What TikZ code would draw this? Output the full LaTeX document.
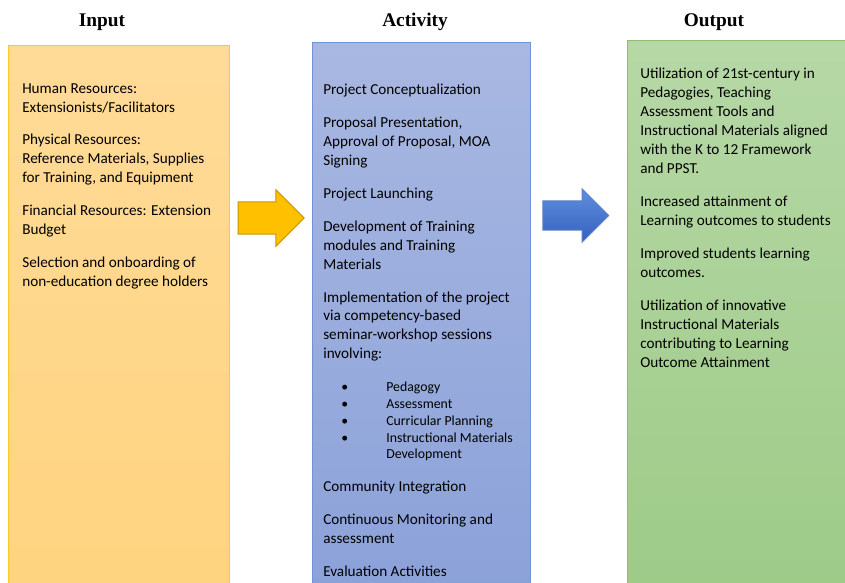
\documentclass[tikz,border=0pt]{standalone}
\usepackage{fontspec}
\setmainfont{Carlito}
\newfontfamily\headfont{Liberation Serif}
\usetikzlibrary{shapes.arrows,positioning}
\definecolor{intop}{HTML}{FFDB98}
\definecolor{inbot}{HTML}{FFD37E}
\definecolor{inline}{HTML}{FFC829}
\definecolor{acttop}{HTML}{A9B8E2}
\definecolor{actbot}{HTML}{89A0D8}
\definecolor{actline}{HTML}{6F92D8}
\definecolor{outtop}{HTML}{B6D8A6}
\definecolor{outbot}{HTML}{9CCA86}
\definecolor{outline}{HTML}{8CC070}
\definecolor{gold}{HTML}{FFC000}
\definecolor{golddark}{HTML}{C99700}
\definecolor{bluelight}{HTML}{5F8FDF}
\definecolor{bluedark}{HTML}{3460BC}
\tikzset{
    column/.style={
           rectangle,
           anchor=north west,
           line width=0.8pt,
           minimum height=420pt,
           shading=axis,
           },
    body/.style={
           anchor=north west,
           align=left,
           inner sep=0pt,
           font=\fontsize{11}{13.75}\selectfont,
           },
    heading/.style={
           anchor=base,
           inner sep=0pt,
           font=\headfont\bfseries\fontsize{14}{16}\selectfont,
           },
    flow/.style={
           single arrow,
           single arrow head extend=8.7pt,
           minimum height=47.8pt,
           inner xsep=0pt,
           inner ysep=11.4pt,
           line width=0.7pt,
           }
}

\begin{document}
\begin{tikzpicture}[x=0.724pt,y=-0.724pt]
\useasboundingbox (0,0) rectangle (845,583);
% Columns (INPUT, ACTIVITY, OUTPUT)
\node[column, draw=inline, top color=intop, bottom color=inbot,
minimum width=160pt] (INPUT) at (8,45) {};
\node[column, draw=actline, top color=acttop, bottom color=actbot,
minimum width=158pt] (ACTIVITY) at (312,42) {};
\node[column, draw=outline, top color=outtop, bottom color=outbot,
minimum width=162pt] (OUTPUT) at (627,40) {};
% Headings
\node[heading] (INHEAD) at (102,27) {Input};
\node[heading] (ACTHEAD) at (415,27) {Activity};
\node[heading] (OUTHEAD) at (714,27) {Output};
% Text in Input
\node[body] (INTEXT) at (22,83)
{Human Resources:\\
Extensionists/Facilitators\\[10pt]
Physical Resources:\\
Reference Materials, Supplies\\
for Training, and Equipment\\[10pt]
Financial Resources: Extension\\
Budget\\[10pt]
Selection and onboarding of\\
non-education degree holders};
% Text in Activity
\node[body] (ACTTEXT) at (323,84)
{Project Conceptualization\\[10pt]
Proposal Presentation,\\
Approval of Proposal, MOA\\
Signing\\[10pt]
Project Launching\\[10pt]
Development of Training\\
modules and Training\\
Materials\\[10pt]
Implementation of the project\\
via competency-based\\
seminar-workshop sessions\\
involving:};
\node[body, font=\fontsize{10}{12.1}\selectfont] (TOPICS) at (341,382)
{\makebox[32.6pt][l]{\textbullet}Pedagogy\\
\makebox[32.6pt][l]{\textbullet}Assessment\\
\makebox[32.6pt][l]{\textbullet}Curricular Planning\\
\makebox[32.6pt][l]{\textbullet}Instructional Materials\\
\hspace*{32.6pt}Development};
\node[body] (ACTMORE) at (323,481)
{Community Integration\\[10pt]
Continuous Monitoring and\\
assessment\\[10pt]
Evaluation Activities};
% Text in Output
\node[body] (OUTTEXT) at (640,68)
{Utilization of 21st-century in\\
Pedagogies, Teaching\\
Assessment Tools and\\
Instructional Materials aligned\\
with the K to 12 Framework\\
and PPST.\\[10pt]
Increased attainment of\\
Learning outcomes to students\\[10pt]
Improved students learning\\
outcomes.\\[10pt]
Utilization of innovative\\
Instructional Materials\\
contributing to Learning\\
Outcome Attainment};
% Block arrows between columns
\node[flow, fill=gold, draw=golddark] (STEP1) at (263,218) {};
\node[flow, top color=bluelight, bottom color=bluedark, draw=bluedark!80,
inner ysep=10.2pt] (STEP2) at (568.5,215.5) {};
\end{tikzpicture}
\end{document}
